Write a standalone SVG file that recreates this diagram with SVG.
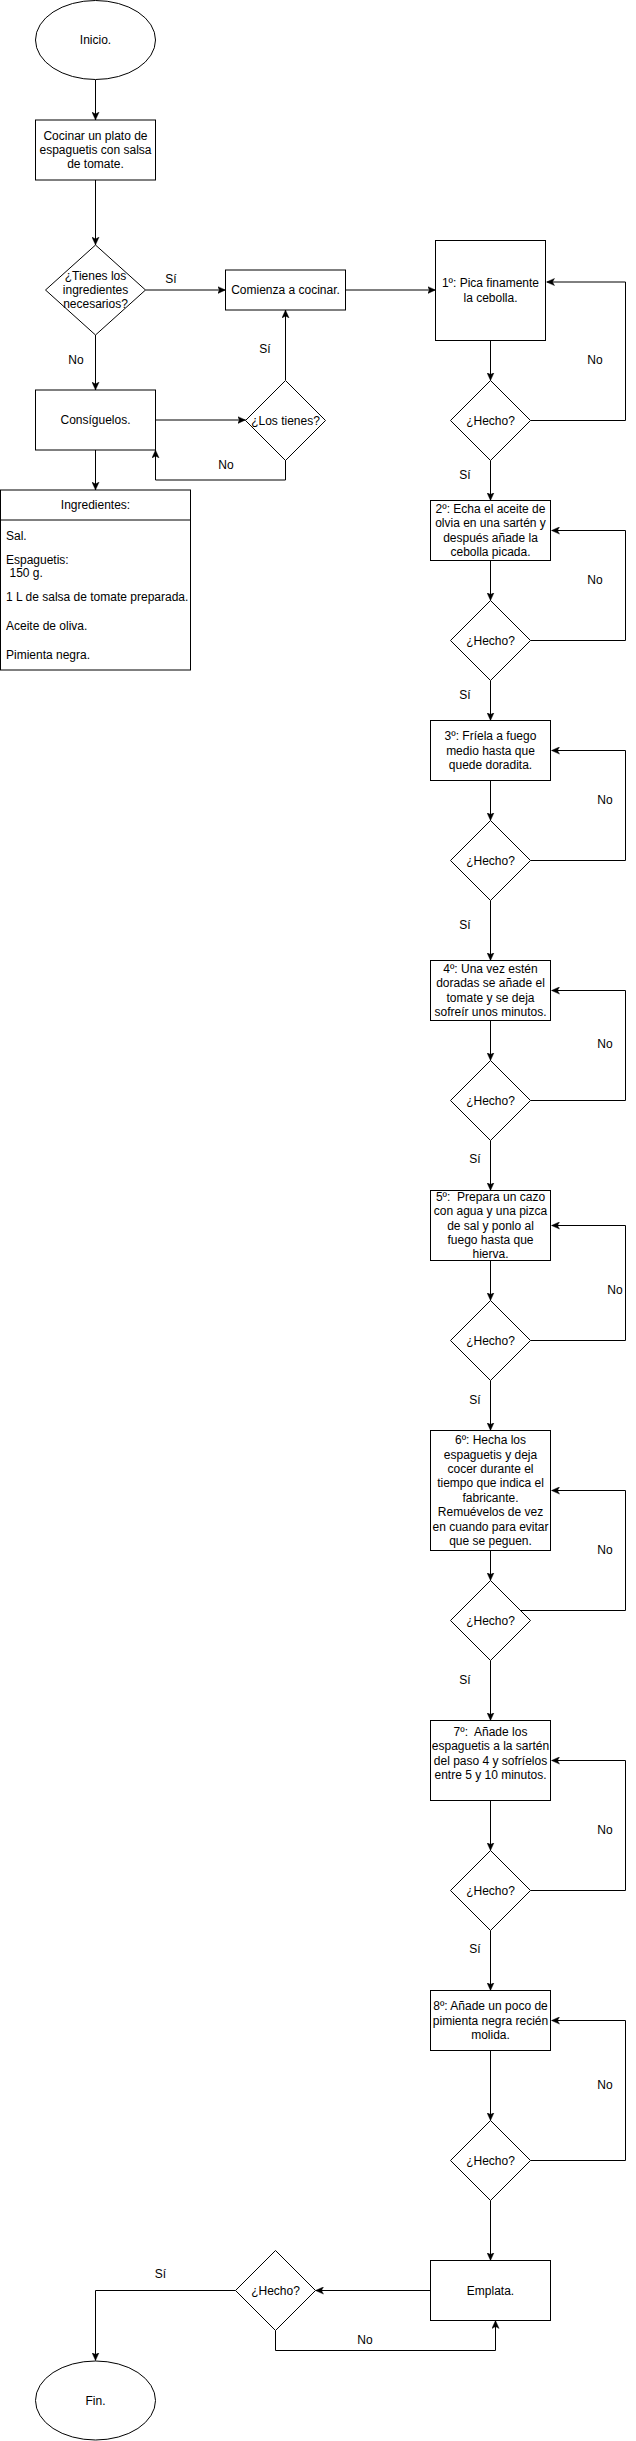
<svg xmlns="http://www.w3.org/2000/svg" width="636" height="2441" viewBox="0 0 636 2441">
<style>
.s{fill:#fff;stroke:#000;stroke-width:1}
.c{fill:none;stroke:#000;stroke-width:1}
text{font-family:"Liberation Sans",Arial,Helvetica,sans-serif;font-size:12px;fill:#000}
.m{text-anchor:middle}
</style>
<defs>
<marker id="a" viewBox="0 0 10 10" refX="10" refY="5" markerWidth="8" markerHeight="8" orient="auto" markerUnits="userSpaceOnUse">
<path d="M0,0.5 L10,5 L0,9.5 L2.5,5 Z" fill="#000" stroke="#000" stroke-width="0.5"/>
</marker>
</defs>
<rect width="636" height="2441" fill="#fff"/>

<g id="connectors">
<path class="c" marker-end="url(#a)" d="M95.5,80 L95.5,120"/>
<path class="c" marker-end="url(#a)" d="M95.5,180 L95.5,245"/>
<path class="c" marker-end="url(#a)" d="M145.5,290 L225.5,290"/>
<path class="c" marker-end="url(#a)" d="M95.5,335 L95.5,390"/>
<path class="c" marker-end="url(#a)" d="M155.5,420 L245.5,420"/>
<path class="c" marker-end="url(#a)" d="M285.5,380 L285.5,310"/>
<path class="c" marker-end="url(#a)" d="M285.5,460 L285.5,480 L155.5,480 L155.5,450"/>
<path class="c" marker-end="url(#a)" d="M95.5,450 L95.5,490"/>
<path class="c" marker-end="url(#a)" d="M345.5,290 L435.5,290"/>
<path class="c" marker-end="url(#a)" d="M490.5,340.5 L490.5,380.5"/>
<path class="c" marker-end="url(#a)" d="M530.5,420.5 L625.5,420.5 L625.5,282 L546.5,282"/>
<path class="c" marker-end="url(#a)" d="M490.5,460.5 L490.5,500.5"/>
<path class="c" marker-end="url(#a)" d="M490.5,560.5 L490.5,600.5"/>
<path class="c" marker-end="url(#a)" d="M530.5,640.5 L625.5,640.5 L625.5,530.5 L551.5,530.5"/>
<path class="c" marker-end="url(#a)" d="M490.5,680.5 L490.5,720.5"/>
<path class="c" marker-end="url(#a)" d="M490.5,780.5 L490.5,820.5"/>
<path class="c" marker-end="url(#a)" d="M530.5,860.5 L625.5,860.5 L625.5,750.5 L551.5,750.5"/>
<path class="c" marker-end="url(#a)" d="M490.5,900.5 L490.5,960.5"/>
<path class="c" marker-end="url(#a)" d="M490.5,1020.5 L490.5,1060.5"/>
<path class="c" marker-end="url(#a)" d="M530.5,1100.5 L625.5,1100.5 L625.5,990.5 L551.5,990.5"/>
<path class="c" marker-end="url(#a)" d="M490.5,1140.5 L490.5,1190.5"/>
<path class="c" marker-end="url(#a)" d="M490.5,1260.5 L490.5,1300.5"/>
<path class="c" marker-end="url(#a)" d="M530.5,1340.5 L625.5,1340.5 L625.5,1225.5 L551.5,1225.5"/>
<path class="c" marker-end="url(#a)" d="M490.5,1380.5 L490.5,1430.5"/>
<path class="c" marker-end="url(#a)" d="M490.5,1550.5 L490.5,1580.5"/>
<path class="c" marker-end="url(#a)" d="M520.5,1610.5 L625.5,1610.5 L625.5,1490.5 L551.5,1490.5"/>
<path class="c" marker-end="url(#a)" d="M490.5,1660.5 L490.5,1720.5"/>
<path class="c" marker-end="url(#a)" d="M490.5,1800.5 L490.5,1850.5"/>
<path class="c" marker-end="url(#a)" d="M530.5,1890.5 L625.5,1890.5 L625.5,1760.5 L551.5,1760.5"/>
<path class="c" marker-end="url(#a)" d="M490.5,1930.5 L490.5,1990.5"/>
<path class="c" marker-end="url(#a)" d="M490.5,2050.5 L490.5,2120.5"/>
<path class="c" marker-end="url(#a)" d="M530.5,2160.5 L625.5,2160.5 L625.5,2020.5 L551.5,2020.5"/>
<path class="c" marker-end="url(#a)" d="M490.5,2200.5 L490.5,2260.5"/>
<path class="c" marker-end="url(#a)" d="M430.5,2290.5 L315.5,2290.5"/>
<path class="c" marker-end="url(#a)" d="M275.5,2330.5 L275.5,2350.5 L495.5,2350.5 L495.5,2320.5"/>
<path class="c" marker-end="url(#a)" d="M235.5,2290.5 L95.5,2290.5 L95.5,2360.5"/>
</g>

<g id="edge-labels">
<text class="m" x="171" y="283">Sí</text>
<text class="m" x="76" y="364">No</text>
<text class="m" x="265" y="353">Sí</text>
<text class="m" x="226" y="469">No</text>
<text class="m" x="595" y="364">No</text>
<text class="m" x="465" y="479">Sí</text>
<text class="m" x="595" y="584">No</text>
<text class="m" x="465" y="699">Sí</text>
<text class="m" x="605" y="804">No</text>
<text class="m" x="465" y="929">Sí</text>
<text class="m" x="605" y="1048">No</text>
<text class="m" x="475" y="1163">Sí</text>
<text class="m" x="615" y="1294">No</text>
<text class="m" x="475" y="1404">Sí</text>
<text class="m" x="605" y="1554">No</text>
<text class="m" x="465" y="1684">Sí</text>
<text class="m" x="605" y="1834">No</text>
<text class="m" x="475" y="1953">Sí</text>
<text class="m" x="605" y="2089">No</text>
<text class="m" x="160.5" y="2278">Sí</text>
<text class="m" x="365" y="2344">No</text>
</g>

<g id="inicio">
<ellipse class="s" cx="95.5" cy="40" rx="60" ry="39.5"/>
<text class="m" x="95.5" y="44">Inicio.</text>
</g>

<g id="cocinar">
<rect class="s" x="35.5" y="120" width="120" height="60"/>
<text class="m" x="95.5" y="139.6">Cocinar un plato de</text>
<text class="m" x="95.5" y="154">espaguetis con salsa</text>
<text class="m" x="95.5" y="168.4">de tomate.</text>
</g>

<g id="tienes">
<path class="s" d="M95.5,245 L145.5,290 L95.5,335 L45.5,290 Z"/>
<text class="m" x="95.5" y="279.6">¿Tienes los</text>
<text class="m" x="95.5" y="294">ingredientes</text>
<text class="m" x="95.5" y="308.4">necesarios?</text>
</g>

<g id="comienza">
<rect class="s" x="225.5" y="270" width="120" height="40"/>
<text class="m" x="285.5" y="294">Comienza a cocinar.</text>
</g>

<g id="consiguelos">
<rect class="s" x="35.5" y="390" width="120" height="60"/>
<text class="m" x="95.5" y="424">Consíguelos.</text>
</g>

<g id="lostienes">
<path class="s" d="M285.5,380.5 L325.5,420.5 L285.5,460.5 L245.5,420.5 Z"/>
<text class="m" x="285.5" y="424.5">¿Los tienes?</text>
</g>

<g id="ingredientes">
<rect class="s" x="0.5" y="490" width="190" height="180"/>
<line class="c" x1="0.5" y1="520" x2="190.5" y2="520"/>
<text class="m" x="95.5" y="509">Ingredientes:</text>
<text x="6" y="540">Sal.</text>
<text x="6" y="564">Espaguetis:</text>
<text x="9.5" y="577">150 g.</text>
<text x="6" y="600.7">1 L de salsa de tomate preparada.</text>
<text x="6" y="630">Aceite de oliva.</text>
<text x="6" y="659">Pimienta negra.</text>
</g>

<g id="paso1">
<rect class="s" x="435.5" y="240.5" width="110" height="100"/>
<text class="m" x="490.5" y="287.3">1º: Pica finamente</text>
<text class="m" x="490.5" y="301.7">la cebolla.</text>
</g>
<g id="hecho1">
<path class="s" d="M490.5,380.5 L530.5,420.5 L490.5,460.5 L450.5,420.5 Z"/>
<text class="m" x="490.5" y="424.5">¿Hecho?</text>
</g>

<g id="paso2">
<rect class="s" x="430.5" y="500.5" width="120" height="60"/>
<text class="m" x="490.5" y="512.9">2º: Echa el aceite de</text>
<text class="m" x="490.5" y="527.3">olvia en una sartén y</text>
<text class="m" x="490.5" y="541.7">después añade la</text>
<text class="m" x="490.5" y="556.1">cebolla picada.</text>
</g>
<g id="hecho2">
<path class="s" d="M490.5,600.5 L530.5,640.5 L490.5,680.5 L450.5,640.5 Z"/>
<text class="m" x="490.5" y="644.5">¿Hecho?</text>
</g>

<g id="paso3">
<rect class="s" x="430.5" y="720.5" width="120" height="60"/>
<text class="m" x="490.5" y="740.1">3º: Fríela a fuego</text>
<text class="m" x="490.5" y="754.5">medio hasta que</text>
<text class="m" x="490.5" y="768.9">quede doradita.</text>
</g>
<g id="hecho3">
<path class="s" d="M490.5,820.5 L530.5,860.5 L490.5,900.5 L450.5,860.5 Z"/>
<text class="m" x="490.5" y="864.5">¿Hecho?</text>
</g>

<g id="paso4">
<rect class="s" x="430.5" y="960.5" width="120" height="60"/>
<text class="m" x="490.5" y="972.9">4º: Una vez estén</text>
<text class="m" x="490.5" y="987.3">doradas se añade el</text>
<text class="m" x="490.5" y="1001.7">tomate y se deja</text>
<text class="m" x="490.5" y="1016.1">sofreír unos minutos.</text>
</g>
<g id="hecho4">
<path class="s" d="M490.5,1060.5 L530.5,1100.5 L490.5,1140.5 L450.5,1100.5 Z"/>
<text class="m" x="490.5" y="1104.5">¿Hecho?</text>
</g>

<g id="paso5">
<rect class="s" x="430.5" y="1190.5" width="120" height="70"/>
<text class="m" x="490.5" y="1200.7" xml:space="preserve">5º:  Prepara un cazo</text>
<text class="m" x="490.5" y="1215.1">con agua y una pizca</text>
<text class="m" x="490.5" y="1229.5">de sal y ponlo al</text>
<text class="m" x="490.5" y="1243.9">fuego hasta que</text>
<text class="m" x="490.5" y="1258.3">hierva.</text>
</g>
<g id="hecho5">
<path class="s" d="M490.5,1300.5 L530.5,1340.5 L490.5,1380.5 L450.5,1340.5 Z"/>
<text class="m" x="490.5" y="1344.5">¿Hecho?</text>
</g>

<g id="paso6">
<rect class="s" x="430.5" y="1430.5" width="120" height="120"/>
<text class="m" x="490.5" y="1444.1">6º: Hecha los</text>
<text class="m" x="490.5" y="1458.5">espaguetis y deja</text>
<text class="m" x="490.5" y="1472.9">cocer durante el</text>
<text class="m" x="490.5" y="1487.3">tiempo que indica el</text>
<text class="m" x="490.5" y="1501.7">fabricante.</text>
<text class="m" x="490.5" y="1516.1">Remuévelos de vez</text>
<text class="m" x="490.5" y="1530.5">en cuando para evitar</text>
<text class="m" x="490.5" y="1544.9">que se peguen.</text>
</g>
<g id="hecho6">
<path class="s" d="M490.5,1580.5 L530.5,1620.5 L490.5,1660.5 L450.5,1620.5 Z"/>
<text class="m" x="490.5" y="1624.5">¿Hecho?</text>
</g>

<g id="paso7">
<rect class="s" x="430.5" y="1720.5" width="120" height="80"/>
<text class="m" x="490.5" y="1735.7" xml:space="preserve">7º:  Añade los</text>
<text class="m" x="490.5" y="1750.1">espaguetis a la sartén</text>
<text class="m" x="490.5" y="1764.5">del paso 4 y sofríelos</text>
<text class="m" x="490.5" y="1778.9">entre 5 y 10 minutos.</text>
</g>
<g id="hecho7">
<path class="s" d="M490.5,1850.5 L530.5,1890.5 L490.5,1930.5 L450.5,1890.5 Z"/>
<text class="m" x="490.5" y="1894.5">¿Hecho?</text>
</g>

<g id="paso8">
<rect class="s" x="430.5" y="1990.5" width="120" height="60"/>
<text class="m" x="490.5" y="2010.1">8º: Añade un poco de</text>
<text class="m" x="490.5" y="2024.5">pimienta negra recién</text>
<text class="m" x="490.5" y="2038.9">molida.</text>
</g>
<g id="hecho8">
<path class="s" d="M490.5,2120.5 L530.5,2160.5 L490.5,2200.5 L450.5,2160.5 Z"/>
<text class="m" x="490.5" y="2164.5">¿Hecho?</text>
</g>

<g id="emplata">
<rect class="s" x="430.5" y="2260.5" width="120" height="60"/>
<text class="m" x="490.5" y="2294.5">Emplata.</text>
</g>
<g id="hecho9">
<path class="s" d="M275.5,2250.5 L315.5,2290.5 L275.5,2330.5 L235.5,2290.5 Z"/>
<text class="m" x="275.5" y="2294.5">¿Hecho?</text>
</g>

<g id="fin">
<ellipse class="s" cx="95.5" cy="2400.5" rx="60" ry="39.5"/>
<text class="m" x="95.5" y="2404.5">Fin.</text>
</g>
</svg>
